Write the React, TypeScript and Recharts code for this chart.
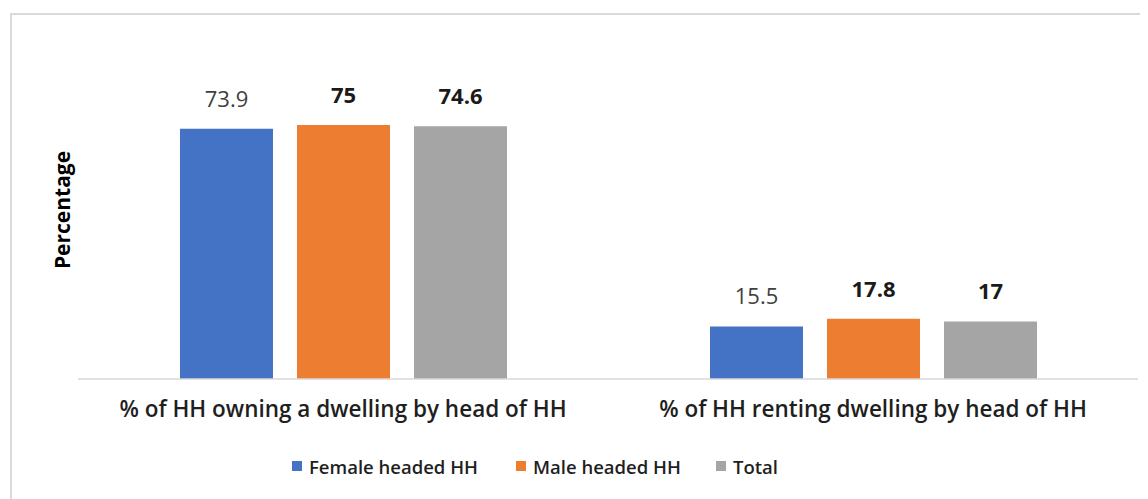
import React from "react";
import { BarChart, Bar, XAxis, YAxis, Legend, LabelList } from "recharts";

const categories = [
  "% of HH owning a dwelling by head of HH",
  "% of HH renting dwelling by head of HH",
];
const femaleHeaded = [73.9, 15.5];
const maleHeaded = [75, 17.8];
const total = [74.6, 17];

const seriesInfo = [
  { key: "female", name: "Female headed HH", color: "#4472C4" },
  { key: "male", name: "Male headed HH", color: "#ED7D31" },
  { key: "total", name: "Total", color: "#A5A5A5" },
];

const data = categories.map((cat, i) => ({
  category: cat,
  female: femaleHeaded[i],
  male: maleHeaded[i],
  total: total[i],
}));

const FONT = "'Open Sans', 'Noto Sans', sans-serif";

const legendLeft = [284, 508, 708];

const LegendContent = () => (
  <div style={{ position: "relative", height: 36, width: 1140, fontFamily: FONT }}>
    {seriesInfo.map((s, i) => (
      <div
        key={s.key}
        style={{
          position: "absolute",
          left: legendLeft[i],
          top: 0,
          height: 36,
          display: "flex",
          alignItems: "center",
          whiteSpace: "nowrap",
        }}
      >
        <span style={{ width: 10, height: 10, background: s.color, marginRight: 7 }} />
        <span style={{ fontSize: 18.5, fontWeight: 600, color: "#1f1f1f" }}>{s.name}</span>
      </div>
    ))}
  </div>
);

const YLabel = () => (
  <text
    x={54}
    y={202}
    transform="rotate(-90, 54, 202)"
    textAnchor="middle"
    dominantBaseline="central"
    style={{ fontFamily: FONT, fontSize: 21, fontWeight: 700, fill: "#000" }}
  >
    Percentage
  </text>
);

export default function App() {
  return (
    <div style={{ position: "relative", width: 1140, height: 491 }}>
      <div
        style={{
          position: "absolute",
          left: 2,
          top: 5,
          width: 1200,
          height: 1000,
          borderTop: "2px solid #d9d9d9",
          borderLeft: "2px solid #d9d9d9",
          boxSizing: "border-box",
        }}
      />
      <div style={{ position: "absolute", left: 0, top: 0 }}>
        <BarChart
          width={1140}
          height={491}
          data={data}
          margin={{ top: 100, right: 10, bottom: 15, left: 0 }}
          barSize={93}
          barGap={24}
        >
          <XAxis
            dataKey="category"
            axisLine={{ stroke: "#d9d9d9", strokeWidth: 1.5 }}
            tickLine={false}
            tickMargin={16}
            height={69}
            interval={0}
            tick={{ fontFamily: FONT, fontSize: 22.5, fontWeight: 600, fill: "#1f1f1f" }}
          />
          <YAxis
            domain={[0, 80]}
            width={70}
            tick={false}
            axisLine={false}
            tickLine={false}
            label={<YLabel />}
          />
          <Legend verticalAlign="bottom" content={<LegendContent />} wrapperStyle={{ left: 0, width: 1140, bottom: 15 }} />
          {seriesInfo.map((s, idx) => (
            <Bar key={s.key} dataKey={s.key} name={s.name} fill={s.color} isAnimationActive={false}>
              <LabelList
                dataKey={s.key}
                position="top"
                offset={22}
                style={{
                  fontFamily: FONT,
                  fontSize: 22,
                  fontWeight: idx === 0 ? 500 : 700,
                  fill: idx === 0 ? "#404040" : "#1a1a1a",
                }}
              />
            </Bar>
          ))}
        </BarChart>
      </div>
    </div>
  );
}
